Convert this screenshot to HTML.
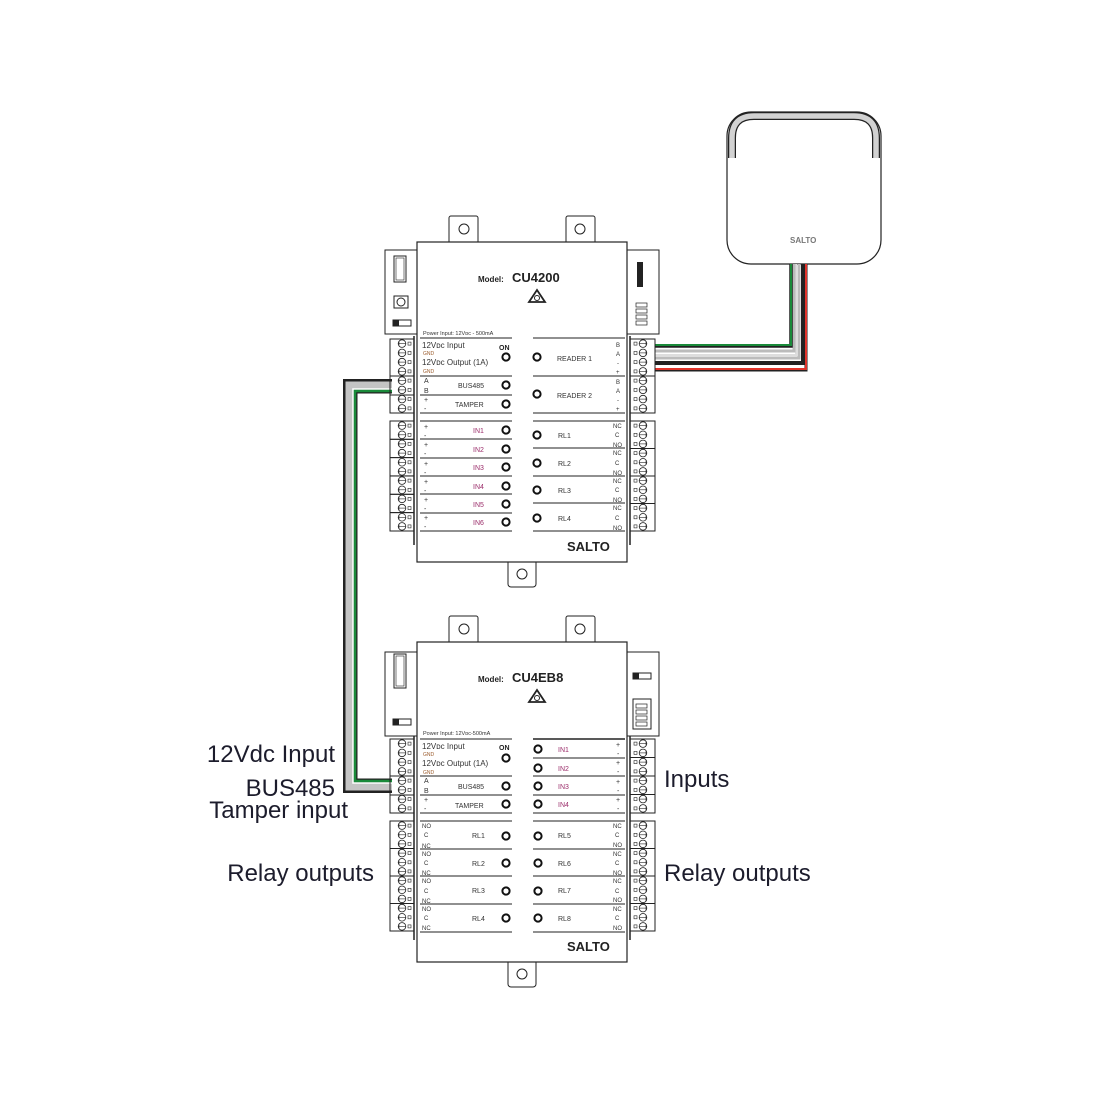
<!DOCTYPE html>
<html><head><meta charset="utf-8"><style>
html,body{margin:0;padding:0;background:#fff;}
svg{display:block;}
text{font-family:"Liberation Sans",sans-serif;}
.s{font-size:7px;fill:#333;}
.g{font-size:5px;fill:#9a5a2a;}
.p{font-size:7px;fill:#9b2d6a;}
.big{font-size:24px;fill:#1c1c2c;}
</style></head><body>
<svg width="1100" height="1100" viewBox="0 0 1100 1100" xmlns="http://www.w3.org/2000/svg">
<defs>
<g id="sl"><circle cx="0" cy="0" r="3.8" fill="#fff" stroke="#222" stroke-width="0.8"/><line x1="-4" y1="0" x2="4" y2="0" stroke="#222" stroke-width="0.6"/><line x1="-3" y1="-2" x2="-3" y2="2" stroke="#222" stroke-width="0.6"/><rect x="6" y="-1.5" width="3" height="3" fill="none" stroke="#222" stroke-width="0.6"/></g>
<g id="sr"><circle cx="0" cy="0" r="3.8" fill="#fff" stroke="#222" stroke-width="0.8"/><line x1="-4" y1="0" x2="4" y2="0" stroke="#222" stroke-width="0.6"/><line x1="3" y1="-2" x2="3" y2="2" stroke="#222" stroke-width="0.6"/><rect x="-9" y="-1.5" width="3" height="3" fill="none" stroke="#222" stroke-width="0.6"/></g>
<circle id="led" r="3.6" fill="#fff" stroke="#111" stroke-width="2"/>
</defs>

<!-- Reader -->
<rect x="727" y="112" width="154" height="152" rx="24" fill="#fff" stroke="#222" stroke-width="1.2"/>
<path d="M732 158 V138 Q732 116 754 116 H854 Q876 116 876 138 V158" fill="none" stroke="#222" stroke-width="8"/>
<path d="M732 158 V138 Q732 116 754 116 H854 Q876 116 876 138 V158" fill="none" stroke="#d2d2d2" stroke-width="5.5"/>
<text x="790" y="243" style="font-size:8px;font-weight:bold;fill:#777">SALTO</text>

<!-- Reader cable -->
<g fill="none" stroke-linejoin="miter">
<path d="M806 264 V370 H655" stroke="#222" stroke-width="3"/>
<path d="M806 264 V369 H655" stroke="#e0332b" stroke-width="2"/>
<path d="M803 264 V363 H655" stroke="#222" stroke-width="4"/>
<path d="M799 264 V358 H655" stroke="#bbb" stroke-width="3"/>
<path d="M796 264 V355 H655" stroke="#ddd" stroke-width="2"/>
<path d="M794 264 V351 H655" stroke="#bbb" stroke-width="3"/>
<path d="M791 264 V346 H655" stroke="#222" stroke-width="3.5"/>
<path d="M791 264 V345 H655" stroke="#1a8a3a" stroke-width="2"/>
</g>

<!-- Bus cable -->
<g fill="none">
<path d="M392 386 H350 V786 H392" stroke="#222" stroke-width="14"/>
<path d="M392 386 H350 V786 H392" stroke="#c4c4c4" stroke-width="9"/>
<path d="M392 389 H353 V783 H392" stroke="#fff" stroke-width="1.5"/>
<path d="M392 391 H355 V781 H392" stroke="#1a8a3a" stroke-width="2.5"/>
<path d="M392 393 H357 V779 H392" stroke="#222" stroke-width="1"/>
</g>

<!-- ============ CONTROLLER 1 ============ -->
<g id="c1">
<rect x="449" y="216" width="29" height="30" rx="2" fill="#fff" stroke="#222"/>
<circle cx="464" cy="229" r="5" fill="#fff" stroke="#222"/>
<rect x="566" y="216" width="29" height="30" rx="2" fill="#fff" stroke="#222"/>
<circle cx="580" cy="229" r="5" fill="#fff" stroke="#222"/>
<rect x="508" y="555" width="28" height="32" rx="3" fill="#fff" stroke="#222"/>
<circle cx="522" cy="574" r="5" fill="#fff" stroke="#222"/>
<rect x="385" y="250" width="32" height="84" fill="#fff" stroke="#222"/>
<rect x="627" y="250" width="32" height="84" fill="#fff" stroke="#222"/>
<rect x="417" y="242" width="210" height="320" fill="#fff" stroke="#222" stroke-width="1.2"/>
<line x1="414" y1="336" x2="414" y2="545" stroke="#222" stroke-width="1.5"/>
<line x1="630" y1="336" x2="630" y2="545" stroke="#222" stroke-width="1.5"/>
</g>
<rect x="394" y="256" width="12" height="26" fill="#fff" stroke="#222"/>
<rect x="396" y="258" width="8" height="22" fill="none" stroke="#222" stroke-width="0.6"/>
<rect x="394" y="296" width="14" height="12" fill="#fff" stroke="#222"/>
<circle cx="401" cy="302" r="4" fill="none" stroke="#222"/>
<rect x="393" y="320" width="18" height="6" fill="#fff" stroke="#222"/>
<rect x="393" y="320" width="6" height="6" fill="#222"/>
<rect x="637" y="262" width="6" height="25" fill="#222"/>
<g stroke="#222" fill="#fff" stroke-width="0.7"><rect x="636" y="303" width="11" height="4"/><rect x="636" y="309" width="11" height="4"/><rect x="636" y="315" width="11" height="4"/><rect x="636" y="321" width="11" height="4"/></g>

<text x="478" y="282" style="font-size:8px;font-weight:bold;fill:#222">Model:</text>
<text x="512" y="282" style="font-size:13px;font-weight:bold;fill:#222">CU4200</text>
<path d="M537 290 L545 302 H529 Z" fill="none" stroke="#222" stroke-width="1.8"/>
<circle cx="537" cy="298" r="2.5" fill="none" stroke="#222"/>
<text x="423" y="335" style="font-size:5.5px;fill:#333">Power Input: 12Vᴅᴄ - 500mA</text>

<g fill="none" stroke="#222"><rect x="390" y="339" width="24" height="37"/><rect x="390" y="376" width="24" height="19"/><rect x="390" y="395" width="24" height="18"/>
<rect x="390" y="421" width="24" height="18.3"/><rect x="390" y="439.3" width="24" height="18.3"/><rect x="390" y="457.6" width="24" height="18.3"/><rect x="390" y="476" width="24" height="18.3"/><rect x="390" y="494.3" width="24" height="18.3"/><rect x="390" y="512.6" width="24" height="18.4"/>
<rect x="630" y="339" width="25" height="37"/><rect x="630" y="376" width="25" height="37"/>
<rect x="630" y="421" width="25" height="27.5"/><rect x="630" y="448.5" width="25" height="27.5"/><rect x="630" y="476" width="25" height="27.5"/><rect x="630" y="503.5" width="25" height="27.5"/></g>
<g>
<use href="#sl" x="402" y="343.6"/><use href="#sl" x="402" y="352.9"/><use href="#sl" x="402" y="362.1"/><use href="#sl" x="402" y="371.4"/><use href="#sl" x="402" y="380.6"/><use href="#sl" x="402" y="389.9"/><use href="#sl" x="402" y="399.1"/><use href="#sl" x="402" y="408.4"/>
<use href="#sl" x="402" y="425.6"/><use href="#sl" x="402" y="434.8"/><use href="#sl" x="402" y="443.9"/><use href="#sl" x="402" y="453.1"/><use href="#sl" x="402" y="462.3"/><use href="#sl" x="402" y="471.4"/><use href="#sl" x="402" y="480.6"/><use href="#sl" x="402" y="489.8"/><use href="#sl" x="402" y="498.9"/><use href="#sl" x="402" y="508.1"/><use href="#sl" x="402" y="517.3"/><use href="#sl" x="402" y="526.4"/>
<use href="#sr" x="643" y="343.6"/><use href="#sr" x="643" y="352.9"/><use href="#sr" x="643" y="362.1"/><use href="#sr" x="643" y="371.4"/><use href="#sr" x="643" y="380.6"/><use href="#sr" x="643" y="389.9"/><use href="#sr" x="643" y="399.1"/><use href="#sr" x="643" y="408.4"/>
<use href="#sr" x="643" y="425.6"/><use href="#sr" x="643" y="434.8"/><use href="#sr" x="643" y="443.9"/><use href="#sr" x="643" y="453.1"/><use href="#sr" x="643" y="462.3"/><use href="#sr" x="643" y="471.4"/><use href="#sr" x="643" y="480.6"/><use href="#sr" x="643" y="489.8"/><use href="#sr" x="643" y="498.9"/><use href="#sr" x="643" y="508.1"/><use href="#sr" x="643" y="517.3"/><use href="#sr" x="643" y="526.4"/>
</g>
<g stroke="#222" stroke-width="0.9">
<line x1="420" y1="338" x2="512" y2="338"/><line x1="420" y1="376" x2="512" y2="376"/><line x1="420" y1="395" x2="512" y2="395"/><line x1="420" y1="413" x2="512" y2="413"/>
<line x1="420" y1="421" x2="512" y2="421"/><line x1="420" y1="439" x2="512" y2="439"/><line x1="420" y1="458" x2="512" y2="458"/><line x1="420" y1="476" x2="512" y2="476"/><line x1="420" y1="494" x2="512" y2="494"/><line x1="420" y1="513" x2="512" y2="513"/><line x1="420" y1="531" x2="512" y2="531"/>
<line x1="533" y1="338" x2="625" y2="338"/><line x1="533" y1="376" x2="625" y2="376"/><line x1="533" y1="413" x2="625" y2="413"/>
<line x1="533" y1="421" x2="625" y2="421"/><line x1="533" y1="448" x2="625" y2="448"/><line x1="533" y1="476" x2="625" y2="476"/><line x1="533" y1="503" x2="625" y2="503"/><line x1="533" y1="531" x2="625" y2="531"/>
</g>
<text x="422" y="348" style="font-size:8px;fill:#333">12Vᴅᴄ Input</text>
<text x="423" y="355" class="g">GND</text>
<text x="422" y="365" style="font-size:8px;fill:#333">12Vᴅᴄ Output (1A)</text>
<text x="423" y="373" class="g">GND</text>
<text x="499" y="350" style="font-size:7px;font-weight:bold;fill:#222">ON</text>
<text x="424" y="383" class="s">A</text><text x="424" y="393" class="s">B</text>
<text x="458" y="388" class="s">BUS485</text>
<text x="424" y="402" class="s">+</text><text x="424" y="411" class="s">-</text>
<text x="455" y="407" class="s">TAMPER</text>
<g class="s"><text x="424" y="429">+</text><text x="424" y="438">-</text><text x="424" y="447">+</text><text x="424" y="456">-</text><text x="424" y="466">+</text><text x="424" y="475">-</text><text x="424" y="484">+</text><text x="424" y="493">-</text><text x="424" y="502">+</text><text x="424" y="511">-</text><text x="424" y="520">+</text><text x="424" y="529">-</text></g>
<g class="p"><text x="473" y="433">IN1</text><text x="473" y="452">IN2</text><text x="473" y="470">IN3</text><text x="473" y="489">IN4</text><text x="473" y="507">IN5</text><text x="473" y="525">IN6</text></g>
<use href="#led" x="506" y="357"/><use href="#led" x="506" y="385"/><use href="#led" x="506" y="404"/>
<use href="#led" x="506" y="430"/><use href="#led" x="506" y="449"/><use href="#led" x="506" y="467"/><use href="#led" x="506" y="486"/><use href="#led" x="506" y="504"/><use href="#led" x="506" y="522"/>
<use href="#led" x="537" y="357"/><use href="#led" x="537" y="394"/><use href="#led" x="537" y="435"/><use href="#led" x="537" y="463"/><use href="#led" x="537" y="490"/><use href="#led" x="537" y="518"/>
<text x="557" y="361" class="s">READER 1</text><text x="557" y="398" class="s">READER 2</text>
<g style="font-size:6px;fill:#333"><text x="616" y="347">B</text><text x="616" y="356">A</text><text x="617" y="365">-</text><text x="616" y="374">+</text><text x="616" y="384">B</text><text x="616" y="393">A</text><text x="617" y="402">-</text><text x="616" y="411">+</text></g>
<g class="s"><text x="558" y="438">RL1</text><text x="558" y="466">RL2</text><text x="558" y="493">RL3</text><text x="558" y="521">RL4</text></g>
<g style="font-size:6px;fill:#333"><text x="613" y="428">NC</text><text x="615" y="437">C</text><text x="613" y="447">NO</text><text x="613" y="455">NC</text><text x="615" y="465">C</text><text x="613" y="475">NO</text><text x="613" y="483">NC</text><text x="615" y="492">C</text><text x="613" y="502">NO</text><text x="613" y="510">NC</text><text x="615" y="520">C</text><text x="613" y="530">NO</text></g>
<text x="567" y="551" style="font-size:13px;font-weight:bold;fill:#222">SALTO</text>

<!-- ============ CONTROLLER 2 ============ -->
<rect x="449" y="616" width="29" height="30" rx="2" fill="#fff" stroke="#222"/>
<circle cx="464" cy="629" r="5" fill="#fff" stroke="#222"/>
<rect x="566" y="616" width="29" height="30" rx="2" fill="#fff" stroke="#222"/>
<circle cx="580" cy="629" r="5" fill="#fff" stroke="#222"/>
<rect x="508" y="955" width="28" height="32" rx="3" fill="#fff" stroke="#222"/>
<circle cx="522" cy="974" r="5" fill="#fff" stroke="#222"/>
<rect x="385" y="652" width="32" height="84" fill="#fff" stroke="#222"/>
<rect x="627" y="652" width="32" height="84" fill="#fff" stroke="#222"/>
<rect x="417" y="642" width="210" height="320" fill="#fff" stroke="#222" stroke-width="1.2"/>
<line x1="414" y1="736" x2="414" y2="940" stroke="#222" stroke-width="1.5"/>
<line x1="630" y1="736" x2="630" y2="940" stroke="#222" stroke-width="1.5"/>
<rect x="394" y="654" width="12" height="34" fill="#fff" stroke="#222"/>
<rect x="396" y="656" width="8" height="30" fill="none" stroke="#222" stroke-width="0.6"/>
<rect x="393" y="719" width="18" height="6" fill="#fff" stroke="#222"/>
<rect x="393" y="719" width="6" height="6" fill="#222"/>
<rect x="633" y="673" width="18" height="6" fill="#fff" stroke="#222"/>
<rect x="633" y="673" width="6" height="6" fill="#222"/>
<rect x="633" y="699" width="18" height="30" fill="#fff" stroke="#222"/>
<g stroke="#222" fill="#fff" stroke-width="0.7"><rect x="636" y="704" width="11" height="4"/><rect x="636" y="710" width="11" height="4"/><rect x="636" y="716" width="11" height="4"/><rect x="636" y="722" width="11" height="4"/></g>

<text x="478" y="682" style="font-size:8px;font-weight:bold;fill:#222">Model:</text>
<text x="512" y="682" style="font-size:13px;font-weight:bold;fill:#222">CU4EB8</text>
<path d="M537 690 L545 702 H529 Z" fill="none" stroke="#222" stroke-width="1.8"/>
<circle cx="537" cy="698" r="2.5" fill="none" stroke="#222"/>
<text x="423" y="735" style="font-size:5.5px;fill:#333">Power Input: 12Vᴅᴄ-500mA</text>

<g fill="none" stroke="#222"><rect x="390" y="739" width="24" height="37"/><rect x="390" y="776" width="24" height="19"/><rect x="390" y="795" width="24" height="18"/>
<rect x="390" y="821" width="24" height="27.5"/><rect x="390" y="848.5" width="24" height="27.5"/><rect x="390" y="876" width="24" height="27.5"/><rect x="390" y="903.5" width="24" height="27.5"/>
<rect x="630" y="739" width="25" height="18.5"/><rect x="630" y="757.5" width="25" height="18.5"/><rect x="630" y="776" width="25" height="18.5"/><rect x="630" y="794.5" width="25" height="18.5"/>
<rect x="630" y="821" width="25" height="27.5"/><rect x="630" y="848.5" width="25" height="27.5"/><rect x="630" y="876" width="25" height="27.5"/><rect x="630" y="903.5" width="25" height="27.5"/></g>
<g>
<use href="#sl" x="402" y="743.6"/><use href="#sl" x="402" y="752.9"/><use href="#sl" x="402" y="762.1"/><use href="#sl" x="402" y="771.4"/><use href="#sl" x="402" y="780.6"/><use href="#sl" x="402" y="789.9"/><use href="#sl" x="402" y="799.1"/><use href="#sl" x="402" y="808.4"/>
<use href="#sl" x="402" y="825.6"/><use href="#sl" x="402" y="834.8"/><use href="#sl" x="402" y="843.9"/><use href="#sl" x="402" y="853.1"/><use href="#sl" x="402" y="862.3"/><use href="#sl" x="402" y="871.4"/><use href="#sl" x="402" y="880.6"/><use href="#sl" x="402" y="889.8"/><use href="#sl" x="402" y="898.9"/><use href="#sl" x="402" y="908.1"/><use href="#sl" x="402" y="917.3"/><use href="#sl" x="402" y="926.4"/>
<use href="#sr" x="643" y="743.6"/><use href="#sr" x="643" y="752.9"/><use href="#sr" x="643" y="762.1"/><use href="#sr" x="643" y="771.4"/><use href="#sr" x="643" y="780.6"/><use href="#sr" x="643" y="789.9"/><use href="#sr" x="643" y="799.1"/><use href="#sr" x="643" y="808.4"/>
<use href="#sr" x="643" y="825.6"/><use href="#sr" x="643" y="834.8"/><use href="#sr" x="643" y="843.9"/><use href="#sr" x="643" y="853.1"/><use href="#sr" x="643" y="862.3"/><use href="#sr" x="643" y="871.4"/><use href="#sr" x="643" y="880.6"/><use href="#sr" x="643" y="889.8"/><use href="#sr" x="643" y="898.9"/><use href="#sr" x="643" y="908.1"/><use href="#sr" x="643" y="917.3"/><use href="#sr" x="643" y="926.4"/>
</g>
<g stroke="#222" stroke-width="0.9">
<line x1="420" y1="739" x2="512" y2="739"/><line x1="420" y1="776" x2="512" y2="776"/><line x1="420" y1="795" x2="512" y2="795"/><line x1="420" y1="813" x2="512" y2="813"/>
<line x1="420" y1="821" x2="512" y2="821"/><line x1="420" y1="849" x2="512" y2="849"/><line x1="420" y1="876" x2="512" y2="876"/><line x1="420" y1="904" x2="512" y2="904"/><line x1="420" y1="932" x2="512" y2="932"/>
<line x1="533" y1="739" x2="625" y2="739" stroke-width="1.6"/><line x1="533" y1="758" x2="625" y2="758"/><line x1="533" y1="776" x2="625" y2="776"/><line x1="533" y1="795" x2="625" y2="795"/><line x1="533" y1="813" x2="625" y2="813"/>
<line x1="533" y1="821" x2="625" y2="821"/><line x1="533" y1="849" x2="625" y2="849"/><line x1="533" y1="876" x2="625" y2="876"/><line x1="533" y1="904" x2="625" y2="904"/><line x1="533" y1="932" x2="625" y2="932"/>
</g>
<text x="422" y="749" style="font-size:8px;fill:#333">12Vᴅᴄ Input</text>
<text x="423" y="756" class="g">GND</text>
<text x="422" y="766" style="font-size:8px;fill:#333">12Vᴅᴄ Output (1A)</text>
<text x="423" y="774" class="g">GND</text>
<text x="499" y="750" style="font-size:7px;font-weight:bold;fill:#222">ON</text>
<text x="424" y="783" class="s">A</text><text x="424" y="793" class="s">B</text>
<text x="458" y="789" class="s">BUS485</text>
<text x="424" y="802" class="s">+</text><text x="424" y="811" class="s">-</text>
<text x="455" y="808" class="s">TAMPER</text>
<g style="font-size:6px;fill:#333"><text x="422" y="828">NO</text><text x="424" y="837">C</text><text x="422" y="848">NC</text><text x="422" y="856">NO</text><text x="424" y="865">C</text><text x="422" y="875">NC</text><text x="422" y="883">NO</text><text x="424" y="893">C</text><text x="422" y="903">NC</text><text x="422" y="911">NO</text><text x="424" y="920">C</text><text x="422" y="930">NC</text></g>
<g class="s"><text x="472" y="838">RL1</text><text x="472" y="866">RL2</text><text x="472" y="893">RL3</text><text x="472" y="921">RL4</text></g>
<use href="#led" x="506" y="758"/><use href="#led" x="506" y="786"/><use href="#led" x="506" y="804"/>
<use href="#led" x="506" y="836"/><use href="#led" x="506" y="863"/><use href="#led" x="506" y="891"/><use href="#led" x="506" y="918"/>
<use href="#led" x="538" y="749"/><use href="#led" x="538" y="768"/><use href="#led" x="538" y="786"/><use href="#led" x="538" y="804"/>
<use href="#led" x="538" y="836"/><use href="#led" x="538" y="863"/><use href="#led" x="538" y="891"/><use href="#led" x="538" y="918"/>
<g class="p"><text x="558" y="752">IN1</text><text x="558" y="771">IN2</text><text x="558" y="789">IN3</text><text x="558" y="807">IN4</text></g>
<g class="s"><text x="616" y="747">+</text><text x="617" y="756">-</text><text x="616" y="765">+</text><text x="617" y="774">-</text><text x="616" y="784">+</text><text x="617" y="793">-</text><text x="616" y="802">+</text><text x="617" y="811">-</text></g>
<g class="s"><text x="558" y="838">RL5</text><text x="558" y="866">RL6</text><text x="558" y="893">RL7</text><text x="558" y="921">RL8</text></g>
<g style="font-size:6px;fill:#333"><text x="613" y="828">NC</text><text x="615" y="837">C</text><text x="613" y="847">NO</text><text x="613" y="856">NC</text><text x="615" y="865">C</text><text x="613" y="875">NO</text><text x="613" y="883">NC</text><text x="615" y="893">C</text><text x="613" y="902">NO</text><text x="613" y="911">NC</text><text x="615" y="920">C</text><text x="613" y="930">NO</text></g>
<text x="567" y="951" style="font-size:13px;font-weight:bold;fill:#222">SALTO</text>

<!-- Big labels -->
<text x="335" y="762" text-anchor="end" class="big">12Vdc Input</text>
<text x="335" y="796" text-anchor="end" class="big">BUS485</text>
<text x="348" y="818" text-anchor="end" class="big">Tamper input</text>
<text x="374" y="881" text-anchor="end" class="big">Relay outputs</text>
<text x="664" y="787" class="big">Inputs</text>
<text x="664" y="881" class="big">Relay outputs</text>
</svg>
</body></html>
